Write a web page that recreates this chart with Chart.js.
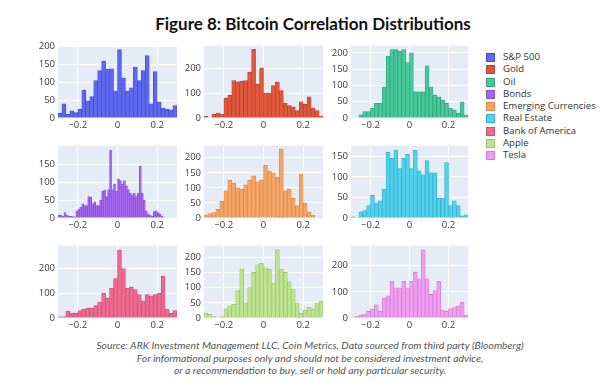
<!DOCTYPE html>
<html>
<head>
<meta charset="utf-8">
<script src="https://cdn.jsdelivr.net/npm/chart.js@4.4.1/dist/chart.umd.min.js"></script>
<style>
  html, body { margin: 0; padding: 0; background: #fff; }
  #page { position: relative; width: 600px; height: 392px; overflow: hidden; font-family: 'Open Sans', sans-serif; }
  #title { position: absolute; left: 0; width: 626px; top: 13px; text-align: center; font-family: Lato, sans-serif; font-weight: bold; font-size: 17px; color: #111; }
  .panel { position: absolute; }
  #legend { position: absolute; left: 486px; top: 51px; }
  .item { position: relative; height: 12.3px; font-size: 9.6px; color: #333; white-space: nowrap; }
  .item span.box { position: absolute; left: 0; top: 2px; width: 7px; height: 7px; border: 1px solid; }
  .item span.lbl { position: absolute; left: 17px; top: 0; line-height: 12px; }
  #source { position: absolute; left: 0; width: 620px; top: 339px; text-align: center; font-family: Lato, sans-serif; font-style: italic; font-size: 10.4px; line-height: 12.6px; color: #555; }
</style>
</head>
<body>
<div id="page">
  <div id="title">Figure 8: Bitcoin Correlation Distributions</div>
  <div id="legend"></div>
  <div id="source">Source: ARK Investment Management LLC, Coin Metrics, Data sourced from third party (Bloomberg)<br>For informational purposes only and should not be considered investment advice,<br>or a recommendation to buy, sell or hold any particular security.</div>
</div>
<script>
// bin centres (width 0.02), and finer bins (width 0.01) for bonds
const bins = [-0.29, -0.27, -0.25, -0.23, -0.21, -0.19, -0.17, -0.15, -0.13, -0.11,
              -0.09, -0.07, -0.05, -0.03, -0.01, 0.01, 0.03, 0.05, 0.07, 0.09,
              0.11, 0.13, 0.15, 0.17, 0.19, 0.21, 0.23, 0.25, 0.27, 0.29];
const binsFine = [-0.295, -0.285, -0.275, -0.265, -0.255, -0.245, -0.235, -0.225, -0.215, -0.205,
                  -0.195, -0.185, -0.175, -0.165, -0.155, -0.145, -0.135, -0.125, -0.115, -0.105,
                  -0.095, -0.085, -0.075, -0.065, -0.055, -0.045, -0.035, -0.025, -0.015, -0.005,
                  0.005, 0.015, 0.025, 0.035, 0.045, 0.055, 0.065, 0.075, 0.085, 0.095,
                  0.105, 0.115, 0.125, 0.135, 0.145, 0.155, 0.165, 0.175, 0.185, 0.195,
                  0.205, 0.215, 0.225, 0.235, 0.245, 0.255, 0.265, 0.275, 0.285, 0.295];

const sp500 = [14, 40, 10, 20, 15, 25, 78, 48, 60, 105, 133, 160, 137, 138, 75,
               192, 113, 75, 85, 143, 105, 133, 175, 40, 130, 45, 28, 25, 23, 35];
const gold = [8, 0, 15, 20, 15, 80, 92, 150, 145, 148, 150, 183, 275, 135, 200,
              100, 100, 130, 145, 110, 60, 50, 45, 30, 65, 55, 85, 40, 30, 8];
const oil = [0, 0, 10, 20, 20, 30, 45, 45, 95, 190, 210, 210, 205, 210, 170,
             200, 80, 80, 80, 160, 95, 70, 65, 55, 45, 30, 25, 15, 50, 8];
const bonds = [8, 8, 5, 15, 8, 5, 5, 4, 3, 20, 25, 30, 40, 35, 35, 60, 58, 40, 45, 35,
               35, 50, 75, 78, 60, 80, 190, 80, 95, 75, 110, 105, 95, 105, 90, 80, 70, 65, 70, 60,
               70, 145, 70, 50, 20, 12, 8, 5, 18, 20, 15, 10, 5, 0, 0, 0, 0, 0, 0, 0];
const emCurrencies = [10, 15, 18, 30, 55, 90, 125, 115, 100, 95, 110, 125, 140, 120, 125,
                      175, 155, 150, 135, 230, 90, 95, 65, 40, 145, 50, 20, 10, 0, 0];
const realEstate = [3, 0, 15, 18, 30, 55, 37, 42, 70, 160, 145, 165, 120, 145, 155,
                    120, 165, 115, 105, 140, 110, 110, 48, 48, 135, 30, 42, 30, 5, 8];
const bankOfAmerica = [5, 5, 28, 20, 20, 30, 35, 40, 40, 50, 65, 100, 80, 120, 160,
                       275, 200, 120, 125, 115, 95, 70, 95, 90, 95, 100, 170, 35, 20, 30];
const apple = [15, 12, 5, 0, 5, 30, 40, 45, 90, 160, 50, 100, 150, 175, 180,
               165, 160, 115, 225, 160, 150, 120, 95, 50, 15, 25, 35, 30, 50, 55];
const tesla = [2, 5, 10, 15, 25, 35, 50, 25, 75, 85, 140, 115, 115, 140, 115,
               140, 175, 150, 260, 150, 90, 105, 140, 30, 25, 35, 40, 45, 60, 10];

const names = ['S&P 500', 'Gold', 'Oil', 'Bonds', 'Emerging Currencies', 'Real Estate', 'Bank of America', 'Apple', 'Tesla'];
const colors = ['#5e68f0', '#e0573c', '#47c79a', '#a566f0', '#f4a566', '#52d0ec', '#ec6a90', '#bde38f', '#f09df0'];
const edges  = ['#444ec8', '#b8432d', '#2ea57c', '#8a4fd0', '#d88a4e', '#2fb2cf', '#cc5078', '#9fc672', '#d47fd4'];

const xTicks = [-0.2, 0, 0.2];
const yTicks = [[0, 50, 100, 150, 200], [0, 100, 200], [0, 50, 100, 150, 200],
                [0, 50, 100, 150], [0, 50, 100, 150, 200], [0, 50, 100, 150],
                [0, 100, 200], [0, 50, 100, 150, 200], [0, 100, 200]];
const yMax = [203, 290, 222, 203, 240, 176, 293, 238, 276];

const series = [sp500, gold, oil, bonds, emCurrencies, realEstate, bankOfAmerica, apple, tesla];
const binSets = [bins, bins, bins, binsFine, bins, bins, bins, bins, bins];

// plot-area geometry of the 3x3 grid
const colLeft = [58, 204, 351], colWidth = [119, 119, 117];
const rowTop = [45, 145, 245], plotH = 73;
const AXW = 40, AXH = 20, PADT = 8;

Chart.defaults.font.family = "'Open Sans', sans-serif";
Chart.defaults.font.size = 9.5;
Chart.defaults.color = '#3a3a3a';

const plotBg = {
  id: 'plotBg',
  beforeDraw(chart) {
    const a = chart.chartArea, ctx = chart.ctx;
    ctx.save();
    ctx.fillStyle = '#e5ecf6';
    ctx.fillRect(a.left, a.top, a.right - a.left, a.bottom - a.top);
    ctx.restore();
  }
};

const page = document.getElementById('page');

series.forEach((vals, i) => {
  const r = Math.floor(i / 3), c = i % 3;
  const div = document.createElement('div');
  div.className = 'panel';
  const w = AXW + colWidth[c] + 2, h = PADT + plotH + AXH;
  div.style.left = (colLeft[c] - AXW) + 'px';
  div.style.top = (rowTop[r] - PADT) + 'px';
  const cv = document.createElement('canvas');
  cv.width = w; cv.height = h;
  cv.style.width = w + 'px'; cv.style.height = h + 'px';
  div.appendChild(cv);
  page.appendChild(div);

  new Chart(cv, {
    type: 'bar',
    data: {
      datasets: [{
        label: names[i],
        data: vals.map((v, k) => ({ x: binSets[i][k], y: v })),
        backgroundColor: colors[i],
        borderColor: edges[i],
        borderWidth: 0.8,
        barPercentage: 1,
        categoryPercentage: 1
      }]
    },
    options: {
      responsive: false,
      animation: false,
      devicePixelRatio: 1,
      layout: { padding: { top: PADT, right: 2, left: 0, bottom: 0 } },
      plugins: { legend: { display: false }, tooltip: { enabled: false } },
      scales: {
        x: {
          type: 'linear', min: -0.3, max: 0.3, offset: false,
          grid: { color: '#ffffff', drawTicks: false, offset: false },
          border: { display: false },
          afterBuildTicks: s => { s.ticks = xTicks.map(v => ({ value: v })); },
          afterFit: s => { s.height = AXH; },
          ticks: { padding: 2, maxRotation: 0, callback: v => v === 0 ? '0' : (v < 0 ? '\u2212' + Math.abs(v) : String(v)) }
        },
        y: {
          min: 0, max: yMax[i],
          grid: { color: '#ffffff', drawTicks: false },
          border: { display: false },
          afterBuildTicks: s => { s.ticks = yTicks[i].map(v => ({ value: v })); },
          afterFit: s => { s.width = AXW; },
          ticks: { padding: 3 }
        }
      }
    },
    plugins: [plotBg]
  });
});

// legend
const legend = document.getElementById('legend');
names.forEach((n, i) => {
  const it = document.createElement('div');
  it.className = 'item';
  it.innerHTML = '<span class="box" style="background:' + colors[i] + ';border-color:' + edges[i] + '"></span><span class="lbl"></span>';
  it.querySelector('.lbl').textContent = n;
  legend.appendChild(it);
});
</script>
</body>
</html>
